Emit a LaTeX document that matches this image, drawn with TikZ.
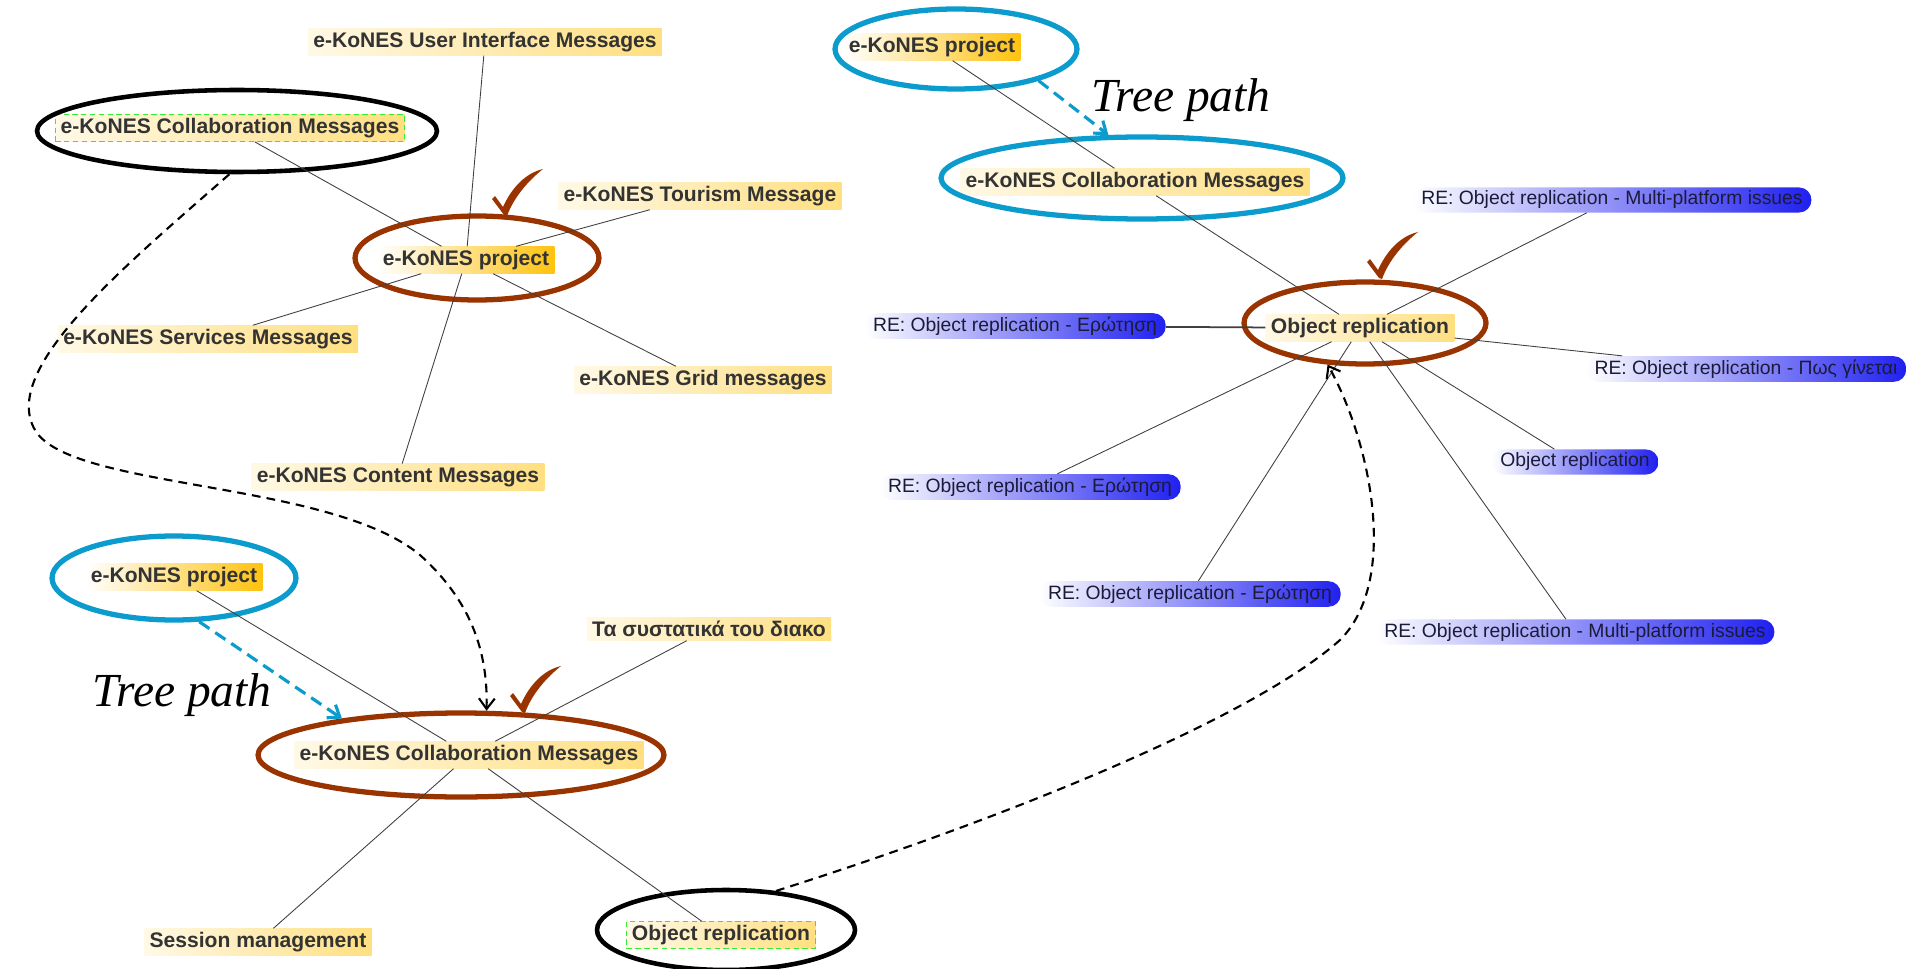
\documentclass[tikz,border=0pt]{standalone}
\usepackage{fontspec}
\setmainfont{Liberation Sans}
\newfontfamily\pathfont{Liberation Serif}
\usetikzlibrary{shapes.geometric,arrows.meta}
\definecolor{lbltext}{HTML}{333333}
\definecolor{bluetext}{HTML}{1A1A3A}
\definecolor{hlgold}{HTML}{FFDF80}
\definecolor{deepgold}{HTML}{FFC20E}
\definecolor{hlblue}{HTML}{2020F0}
\definecolor{ringblue}{HTML}{0B9BCC}
\definecolor{ringbrown}{HTML}{993300}
\definecolor{selgreen}{HTML}{33EE33}

\begin{document}
\begin{tikzpicture}[x=0.02cm, y=-0.02cm]
\tikzset{msg/.style={font=\bfseries\fontsize{12}{14}\selectfont, text=lbltext, inner xsep=3pt, inner ysep=2pt, left color=hlgold!20, right color=hlgold},
  topmsg/.style={msg, left color=white, right color=deepgold},
  reply/.style={font=\fontsize{11}{13}\selectfont, text=bluetext, inner xsep=5pt, inner ysep=2pt, rounded corners=7pt, left color=white, right color=hlblue},
  picked/.style={draw=selgreen, densely dashed, line width=0.6pt},
  ring/.style={ellipse, inner sep=0pt, line width=3pt},
  link/.style={draw=black!75, line width=0.5pt},
  jump/.style={dashed, dash pattern=on 5pt off 3.5pt, line width=1.2pt, -{Straight Barb[length=6pt,width=9pt]}},
  hop/.style={draw=ringblue, dash pattern=on 7pt off 4pt, line width=1.8pt, -{Straight Barb[length=6pt,width=9pt]}},
  hint/.style={font=\pathfont\itshape\fontsize{27}{30}\selectfont, inner sep=0pt},
  tick/.pic={\fill[ringbrown] (0,0) -- (-12,-16) -- (-9,-19) -- (-1,-8) .. controls (8,-28) and (22,-42) .. (39,-46) .. controls (24,-34) and (10,-18) .. (3,1) -- cycle;}}
\useasboundingbox (0,0) rectangle (1909,969);

% first view
\node[msg] (uiA) at (485,42) {e-KoNES User Interface Messages};
\node[msg, picked] (collabA) at (230,128) {e-KoNES Collaboration Messages};
\node[topmsg] (projA) at (466,260) {e-KoNES project};
\node[msg] (tourA) at (700,196) {e-KoNES Tourism Message};
\node[msg] (servA) at (208,339) {e-KoNES Services Messages};
\node[msg] (gridA) at (703,380) {e-KoNES Grid messages};
\node[msg] (contA) at (398,477) {e-KoNES Content Messages};
\node[ring, draw=black, line width=2.6pt, minimum width=8cm, minimum height=1.64cm] (ringCollabA) at (237,131) {};
\node[ring, draw=ringbrown, minimum width=4.88cm, minimum height=1.68cm] (ringProjA) at (477,258) {};
\draw[link] (projA) -- (uiA);
\draw[link] (projA) -- (collabA);
\draw[link] (projA) -- (tourA);
\draw[link] (projA) -- (servA);
\draw[link] (projA) -- (gridA);
\draw[link] (projA) -- (contA);
\pic at (504,215) {tick};

% second view
\node[topmsg] (projB) at (174,577) {e-KoNES project};
\node[msg] (collabB) at (469,755) {e-KoNES Collaboration Messages};
\node[msg] (greekB) at (709,629) {Τα συστατικά του διακο};
\node[msg] (sessB) at (258,942) {Session management};
\node[msg, picked] (objB) at (721,935) {Object replication};
\node[ring, draw=ringblue, minimum width=4.88cm, minimum height=1.68cm] (ringProjB) at (174,578) {};
\node[ring, draw=ringbrown, minimum width=8.12cm, minimum height=1.68cm] (ringCollabB) at (461,755) {};
\node[ring, draw=black, line width=2.6pt, minimum width=5.16cm, minimum height=1.6cm] (ringObjB) at (726,930) {};
\draw[link] (collabB) -- (projB);
\draw[link] (collabB) -- (greekB);
\draw[link] (collabB) -- (sessB);
\draw[link] (collabB) -- (objB);
\node[hint] (hintB) at (182,695) {Tree path};
\draw[hop] (ringProjB.-60) -- (ringCollabB.163);
\pic at (522,712) {tick};

% third view
\node[topmsg] (projC) at (932,47) {e-KoNES project};
\node[msg] (collabC) at (1135,182) {e-KoNES Collaboration Messages};
\node[msg] (objC) at (1360,328) {Object replication};
\node[reply] (re1) at (1015,326) {RE: Object replication - Ερώτηση};
\node[reply] (re2) at (1612,200) {RE: Object replication - Multi-platform issues};
\node[reply] (re3) at (1746,369) {RE: Object replication - Πως γίνεται};
\node[reply] (re4) at (1575,462) {Object replication};
\node[reply] (re5) at (1030,487) {RE: Object replication - Ερώτηση};
\node[reply] (re6) at (1190,594) {RE: Object replication - Ερώτηση};
\node[reply] (re7) at (1575,632) {RE: Object replication - Multi-platform issues};
\node[ring, draw=ringblue, minimum width=4.84cm, minimum height=1.6cm] (ringProjC) at (956,49) {};
\node[ring, draw=ringblue, minimum width=8.04cm, minimum height=1.64cm] (ringCollabC) at (1142,178) {};
\node[ring, draw=ringbrown, minimum width=4.84cm, minimum height=1.64cm] (ringObjC) at (1365,323) {};
\draw[link] (projC) -- (collabC);
\draw[link] (collabC) -- (objC);
\draw[link, line width=1pt] (objC) -- (re1);
\draw[link] (objC) -- (re2);
\draw[link] (objC) -- (re3);
\draw[link] (objC) -- (re4);
\draw[link] (objC) -- (re5);
\draw[link] (objC) -- (re6);
\draw[link] (objC) -- (re7);
\node[hint] (hintC) at (1181,100) {Tree path};
\draw[hop] (ringProjC.-21) -- (ringCollabC.128);
\pic at (1379,278) {tick};

% jumps between views
\draw[jump] (ringCollabA.260) .. controls (120,270) and (0,370) .. (35,430) .. controls (70,490) and (330,480) .. (420,555) .. controls (470,600) and (488,650) .. (ringCollabB.60);
\draw[jump] (ringObjB.38) .. controls (1000,820) and (1250,720) .. (1340,640) .. controls (1400,580) and (1370,440) .. (ringObjC.228);
\end{tikzpicture}
\end{document}
